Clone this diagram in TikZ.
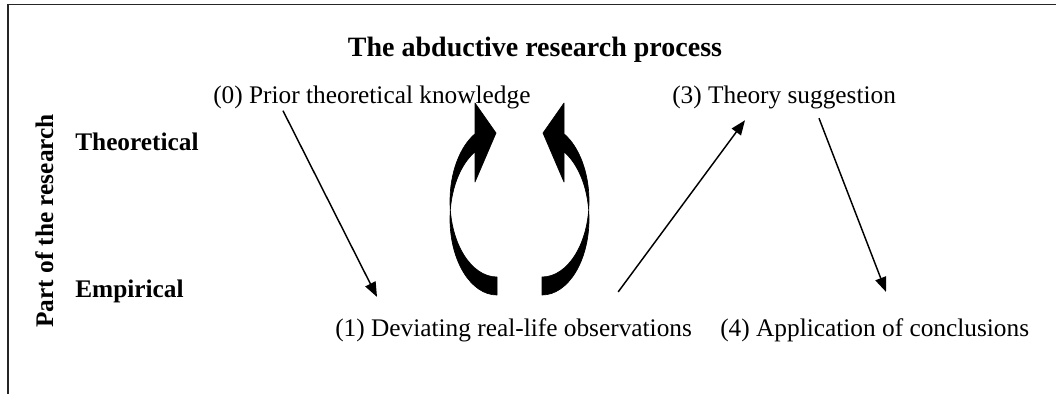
\documentclass[tikz,border=0pt]{standalone}
\usepackage{fontspec}
\setmainfont{Liberation Serif}
\usetikzlibrary{arrows.meta}

\newcommand{\turnshape}{%
  (497,295) .. controls (471,295) and (450,261) .. (450,219)
  .. controls (450,190.9) and (459.6,165) .. (475,151.8)
  -- (475,182) -- (496,133) -- (475,103) -- (475,133.8)
  .. controls (459.6,147) and (450,172.9) .. (450,201)
  .. controls (450,243) and (471,277) .. (497,277) -- cycle}

\begin{document}
\begin{tikzpicture}[
  x=0.75pt, y=-0.75pt,
  every node/.style={inner sep=0pt, font=\fontsize{19}{23}\selectfont},
  stagetext/.style={anchor=base west},
  leveltext/.style={anchor=base west, font=\fontsize{19}{23}\selectfont\bfseries},
  flow/.style={line width=1.1pt, -{Triangle[length=11pt,width=8.5pt]}},
  swirl/.style={fill=black, draw=black, line width=0.5pt, line join=round}
]
\useasboundingbox (0,0) rectangle (1056,394);
\draw[line width=1.3pt, black!85] (1056,4.5) -- (8,4.5) -- (8,394);

\node[
  anchor=base,
  font=\fontsize{21}{25}\selectfont\bfseries
] (title) at (535,56) {The abductive research process};

\node[
  rotate=90,
  anchor=base west,
  font=\fontsize{19}{23}\selectfont\bfseries
] (part) at (53,328) {Part of the research};
\node[leveltext] (theo) at (75,150) {Theoretical};
\node[leveltext] (emp) at (75,297) {Empirical};

\node[stagetext] (prior) at (213,103) {(0) Prior theoretical knowledge};
\node[stagetext] (theory) at (672,103) {(3) Theory suggestion};
\node[stagetext] (devi) at (335,336) {(1) Deviating real-life observations};
\node[stagetext] (appl) at (720,336) {(4) Application of conclusions};

\draw[flow] ([shift={(70,2)}]prior.south west) -- ([shift={(42,-21)}]devi.north west);
\draw[flow] ([shift={(-74,-26)}]devi.north east) -- ([shift={(73,11.5)}]theory.south west);
\draw[flow] ([shift={(147,9.5)}]theory.south west) -- ([shift={(166,-26)}]appl.north west);

\filldraw[swirl] \turnshape;
\begin{scope}[xshift=779.25pt, xscale=-1]
  \filldraw[swirl] \turnshape;
\end{scope}
\end{tikzpicture}
\end{document}
